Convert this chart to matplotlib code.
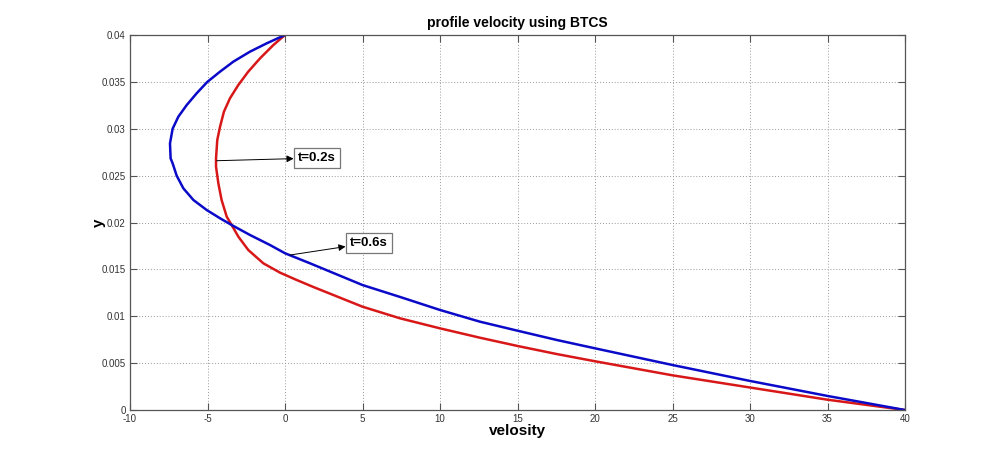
import matplotlib
matplotlib.use("Agg")
import matplotlib.pyplot as plt

plt.rcParams['font.family'] = ['Liberation Sans', 'DejaVu Sans']

# velocity profile at t=0.6s (blue)
vel_06 = [0, -1.18, -2.26, -3.33, -4.19, -5.01, -5.70, -6.34, -6.88, -7.25, -7.42, -7.38,
          -7.25, -6.99, -6.56, -5.91, -5.05, -4.19, -3.44, -2.26, -0.97, 0, 1.61,
          5, 7.42, 10, 12.58, 15, 17.53, 20, 25, 30, 35, 40]
y_06 = [0.04, 0.03911, 0.03822, 0.03716, 0.03609, 0.035, 0.03378, 0.03253, 0.03129, 0.030,
        0.02844, 0.02684, 0.02631, 0.025, 0.02365, 0.0224, 0.02133, 0.02045, 0.01973,
        0.01867, 0.0176, 0.01672, 0.01565, 0.01333, 0.01206, 0.01067, 0.00942, 0.00846,
        0.00747, 0.00658, 0.0048, 0.0031, 0.0015, 0]

# velocity profile at t=0.2s (red)
vel_02 = [0, -0.75, -1.61, -2.37, -3.01, -3.55, -3.94, -4.19, -4.37, -4.45, -4.45, -4.30,
          -4.09, -3.76, -3.44, -3.01, -2.37, -1.40, -0.32, 0.75, 1.83, 5, 7.42, 10,
          12.58, 15, 17.53, 20, 25, 30, 35, 40]
y_02 = [0.04, 0.03893, 0.03751, 0.03609, 0.03467, 0.03325, 0.03182, 0.03022, 0.0288,
        0.02684, 0.02596, 0.02418, 0.0224, 0.02062, 0.01973, 0.01849, 0.01707, 0.01565,
        0.01465, 0.01387, 0.01312, 0.01102, 0.00978, 0.00871, 0.00771, 0.00683, 0.00597,
        0.0052, 0.0037, 0.0024, 0.0011, 0]

xticks = [-10, -5, 0, 5, 10, 15, 20, 25, 30, 35, 40]
yticks = [0, 0.005, 0.01, 0.015, 0.02, 0.025, 0.03, 0.035, 0.04]
ylabels = ['0', '0.005', '0.01', '0.015', '0.02', '0.025', '0.03', '0.035', '0.04']

fig = plt.figure(figsize=(10, 4.61), dpi=100)
ax = fig.add_axes([0.13, 0.1106, 0.775, 0.8135])

ax.plot(vel_02, y_02, color='#d81818', lw=1.8, solid_joinstyle='round')
ax.plot(vel_06, y_06, color='#0a0ac8', lw=1.8, solid_joinstyle='round')

ax.set_xlim(-10, 40)
ax.set_ylim(0, 0.04)
ax.set_xticks(xticks)
ax.set_xticklabels([str(t) for t in xticks])
ax.set_yticks(yticks)
ax.set_yticklabels(ylabels)
ax.tick_params(direction='in', top=True, right=True, labelsize=7, colors='#555555',
               labelcolor='#333333', length=5, width=0.8, pad=3)
for s in ax.spines.values():
    s.set_color('#555555')
    s.set_linewidth(0.9)
ax.grid(True, linestyle=(0, (1, 2)), color='#999999', linewidth=0.7)

ax.set_title('profile velocity using BTCS', fontsize=10, fontweight='bold', pad=6)
ax.set_xlabel('velosity', fontsize=11, fontweight='bold', labelpad=0)
ax.set_ylabel('y', fontsize=11, fontweight='bold')
ax.yaxis.set_label_coords(-0.031, 0.5)

box = dict(boxstyle='square,pad=0.3', fc='white', ec='#777777', lw=0.9)
arrow = dict(arrowstyle='<|-', color='black', lw=0.7, shrinkA=0, shrinkB=0,
             mutation_scale=10)
ax.annotate('t=0.2s', xy=(-4.41, 0.02659), xytext=(0.84, 0.02688),
            fontsize=9.5, fontweight='bold', ha='left', va='center',
            bbox=box, arrowprops=arrow)
ax.annotate('t=0.6s', xy=(0.32, 0.01653), xytext=(4.19, 0.01781),
            fontsize=9.5, fontweight='bold', ha='left', va='center',
            bbox=box, arrowprops=arrow)

fig.savefig('out.png', dpi=100)
